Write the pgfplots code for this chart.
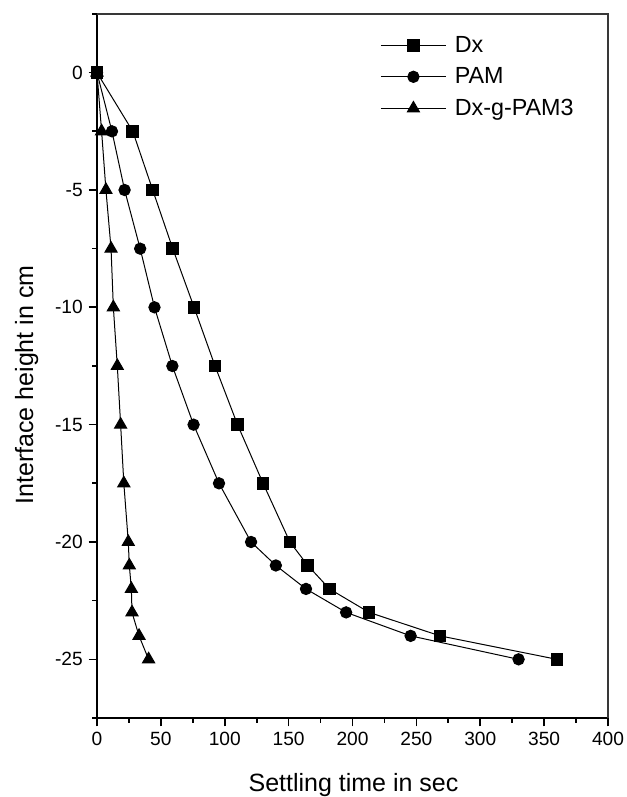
\documentclass[border=0pt]{standalone}
\usepackage{fontspec}
\setmainfont{Liberation Sans}
\usepackage{pgfplots}
\pgfplotsset{compat=1.18}
\definecolor{frame}{rgb}{0.22,0.22,0.22}

\begin{document}
\begin{tikzpicture}
% page size (0.6pt per pixel)
\useasboundingbox (-58.2pt,-47.4pt) rectangle (317.4pt,430.8pt);
\begin{axis}[
    name=main,
    at={(0,0)}, anchor=south west,
    width=306.6pt, height=422.4pt,
    scale only axis,
    xmin=0, xmax=400, ymin=-27.5, ymax=2.5,
    xtick={0,50,...,400},
    ytick={-25,-20,...,0},
    minor xtick={25,75,...,375},
    minor ytick={-27.5,-22.5,...,2.5},
    tick align=outside,
    xtick pos=left, ytick pos=left,
    major tick length=5pt, minor tick length=2.8pt,
    axis line style={line width=1.2pt, black},
    every tick/.style={line width=1pt, black},
    tick label style={font=\fontsize{11.5}{13}\selectfont},
    /pgf/number format/assume math mode=true,
    xlabel={Settling time in sec},
    ylabel={Interface height in cm},
    xlabel style={font=\fontsize{15}{17}\selectfont,
      at={(axis description cs:0.502,-0.104)}, anchor=base},
    ylabel style={font=\fontsize{15}{17}\selectfont,
      at={(axis description cs:-0.125,0.473)}, anchor=base},
    legend style={draw=none, fill=none, at={(0.554,0.974)}, anchor=north west,
      inner sep=0pt, font=\fontsize{14}{16}\selectfont, row sep=3.8pt,
      legend cell align=left},
    legend image code/.code={
      \draw[#1, mark=none] (0pt,0pt) -- (39pt,0pt);
      \draw[#1, only marks] plot coordinates {(19.5pt,0pt)};
      \path (42pt,0pt);
    },
  ]
\addplot[black, line width=0.6pt, mark=square*, mark size=3.5pt] coordinates {
  (0,0) (28,-2.5) (43.6,-5) (59.3,-7.5) (76,-10) (92.4,-12.5) (110,-15)
  (130,-17.5) (151,-20) (165,-21) (182,-22) (213,-23) (268.5,-24) (360,-25)};
\addlegendentry{Dx}
\addplot[black, line width=0.6pt, mark=*, mark size=3.4pt] coordinates {
  (0,0) (11.7,-2.5) (21.6,-5) (33.8,-7.5) (45,-10) (59,-12.5) (75.6,-15)
  (95.5,-17.5) (120.6,-20) (140,-21) (163.6,-22) (195,-23) (245.5,-24) (330,-25)};
\addlegendentry{PAM}
\addplot[black, line width=0.6pt, mark=triangle*, mark size=4.2pt] coordinates {
  (0,0) (3.6,-2.5) (7,-5) (11,-7.5) (12.8,-10) (15.9,-12.5) (18.5,-15)
  (21,-17.5) (24.5,-20) (25.3,-21) (26.9,-22) (27.4,-23) (32.9,-24) (40.4,-25)};
\addlegendentry{Dx-g-PAM3}
\end{axis}
% top and right sides of the frame
\draw[line width=1.4pt, frame] (main.north west) -- (main.north east) -- (main.south east);
\end{tikzpicture}
\end{document}
